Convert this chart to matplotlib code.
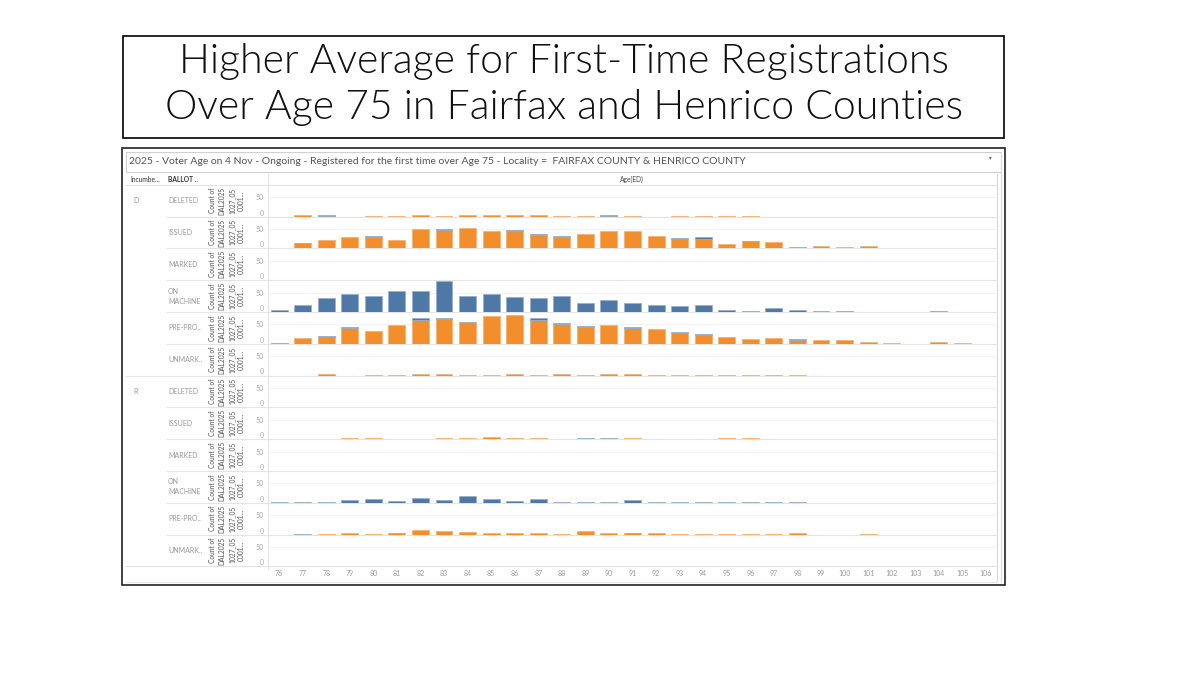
import numpy as np
import matplotlib.pyplot as plt
from matplotlib.patches import Rectangle

plt.rcParams['font.family'] = ['Lato', 'DejaVu Sans']

# ages on the x axis
ages = list(range(76, 107))

# D rows (orange / blue stacked counts)
d_deleted_o = [0,3,2,0,1,2,3,1,3,4,3,4,2,1,2,1,0,1,2,2,1,0,0,0,0,0,0,0,0,0,0]
d_deleted_b = [0,0,1,0,0,0,0,0,0,0,0,0,0,0,1,0,0,0,0,0,0,0,0,0,0,0,0,0,0,0,0]
d_issued_o = [1,13,22,28,30,22,49,47,53,45,44,35,30,37,44,44,33,25,25,12,18,17,3,6,4,7,0,2,0,1,1]
d_issued_b = [0,1,0,0,3,0,0,3,0,0,4,2,1,0,0,0,0,1,3,0,1,0,1,0,0,0,0,0,0,0,0]
d_marked_o = [0,0,0,0,0,0,0,0,0,0,0,0,1,0,1,0,0,0,0,0,0,0,0,0,0,0,0,0,0,0,0]
d_marked_b = [0]*31
d_onmach_o = [0]*31
d_onmach_b = [4,18,37,45,41,55,55,80,40,46,38,35,42,24,30,22,18,15,17,6,3,9,4,2,2,0,0,0,2,0,0]
d_prepro_o = [0,15,17,40,33,48,61,64,55,71,75,61,51,44,48,41,37,27,22,16,12,15,9,9,10,5,3,0,5,2,0]
d_prepro_b = [2,0,3,4,0,0,5,3,2,0,0,6,2,1,0,2,0,2,2,0,0,0,2,0,0,0,0,0,0,0,0]
d_unmark_o = [0,0,3,0,1,1,3,3,1,2,4,1,3,2,4,4,2,1,2,2,1,1,1,0,0,0,0,0,0,0,0]
d_unmark_b = [0]*31

# R rows
r_deleted_o = [0,0,1,1,1,1,0,0,2,0,0,2,1,1,1,2,0,0,0,1,0,1,0,0,0,0,0,0,0,0,0]
r_deleted_b = [0]*31
r_issued_o = [0,0,0,2,2,1,1,3,2,5,3,3,0,1,1,3,1,1,1,2,2,1,0,0,0,0,0,0,0,0,0]
r_issued_b = [0,0,0,0,0,0,0,0,0,0,0,0,0,1,1,0,0,0,0,0,0,0,0,0,0,0,0,0,0,0,0]
r_marked_o = [0,0,0,0,0,0,0,0,0,0,1,0,0,0,0,0,0,0,0,0,0,0,0,0,0,0,0,0,0,0,0]
r_marked_b = [0]*31
r_onmach_o = [0]*31
r_onmach_b = [1,2,3,7,10,5,12,8,17,9,4,10,2,2,3,8,2,2,2,2,1,3,1,0,0,0,0,0,0,0,0]
r_prepro_o = [0,0,2,3,2,3,11,9,7,5,5,4,2,9,3,3,3,1,1,1,1,1,3,0,0,1,0,0,0,0,0]
r_prepro_b = [0,1,0,0,0,1,0,0,0,0,0,0,0,0,0,1,0,0,0,0,0,0,0,0,0,0,0,0,0,0,0]
r_unmark_o = [0,0,0,0,0,0,0,1,1,0,0,1,0,1,0,0,0,0,0,0,0,0,0,0,0,0,0,0,0,0,0]
r_unmark_b = [0]*31

groups = ['D', 'R']
ballots = ['DELETED', 'ISSUED', 'MARKED', 'ON\nMACHINE', 'PRE-PRO..', 'UNMARK..']
panels = [
    (d_deleted_o, d_deleted_b), (d_issued_o, d_issued_b), (d_marked_o, d_marked_b),
    (d_onmach_o, d_onmach_b), (d_prepro_o, d_prepro_b), (d_unmark_o, d_unmark_b),
    (r_deleted_o, r_deleted_b), (r_issued_o, r_issued_b), (r_marked_o, r_marked_b),
    (r_onmach_o, r_onmach_b), (r_prepro_o, r_prepro_b), (r_unmark_o, r_unmark_b),
]

ORANGE, ORANGE_EDGE = '#F28E2B', '#F5B070'
BLUE, BLUE_EDGE = '#4E79A7', '#97B0CE'
GRID = '#e3e3e3'

W, H = 1200, 675
fig = plt.figure(figsize=(12, 6.75), dpi=100)
bg = fig.add_axes([0, 0, 1, 1])
bg.set_xlim(0, W)
bg.set_ylim(H, 0)
bg.axis('off')

def px_axes(x0, y0, x1, y1):
    return fig.add_axes([x0/W, 1 - y1/H, (x1-x0)/W, (y1-y0)/H])

# slide title
bg.add_patch(Rectangle((123, 36), 881, 102, fill=False, ec='black', lw=1.2))
bg.text(564, 62, 'Higher Average for First-Time Registrations', ha='center', va='center',
        fontsize=29.5, fontweight=300, color='#111')
bg.text(564, 108, 'Over Age 75 in Fairfax and Henrico Counties', ha='center', va='center',
        fontsize=29.5, fontweight=300, color='#111')

# screenshot frame
bg.add_patch(Rectangle((122, 148), 883, 437, fill=False, ec='#222', lw=1.2))
bg.add_patch(Rectangle((126, 152), 875, 20, fill=False, ec='#d0d0d0', lw=0.8))
bg.text(129, 162, '2025 - Voter Age on 4 Nov - Ongoing - Registered for the first time over Age 75 '
        '- Locality =  FAIRFAX COUNTY & HENRICO COUNTY', ha='left', va='center',
        fontsize=7.5, color='#555')
bg.text(990, 158, '\u25be', ha='center', va='center', fontsize=4, color='#666',
        family=['DejaVu Sans'])

# column headers
bg.text(130, 180, 'Incumbe...', ha='left', va='center', fontsize=4.8, color='#333')
bg.text(168, 180, 'BALLOT ..', ha='left', va='center', fontsize=4.8, color='#333', fontweight='bold')
bg.text(632, 179, 'Age(ED)', ha='center', va='center', fontsize=4.8, color='#444')
bg.plot([126, 997], [184.7, 184.7], color=GRID, lw=0.8)
bg.plot([268, 268], [174, 569], color=GRID, lw=0.8)
bg.plot([997, 997], [174, 582], color='#d8d8d8', lw=0.8)
bg.plot([1001, 1001], [152, 582], color='#d8d8d8', lw=0.8)
bg.plot([126, 997], [582, 582], color='#e6e6e6', lw=0.8)

first_base = 216.5
pitch = 31.8
x = np.arange(len(ages))

for i, (o, b) in enumerate(panels):
    base = first_base + i * pitch
    top = base - pitch
    mid = (base + top) / 2

    # separators and left-hand labels
    x_start = 126 if i in (5, 11) else 167
    bg.plot([x_start, 997], [base, base], color=GRID, lw=0.8)
    if i % 6 == 0:
        bg.text(133, mid, groups[i // 6], ha='left', va='center', fontsize=5, color='#999')
    bg.text(168, mid, ballots[i % 6], ha='left', va='center', fontsize=5, color='#999',
            linespacing=1.5)
    bg.text(227, mid, 'Count of\nDAL2025\n1027_05\n0001...', rotation=90, ha='center',
            va='center', multialignment='center', fontsize=4.8, color='#555', linespacing=1.45)

    ax = px_axes(268, top, 997, base)
    ax.set_xlim(-0.47, len(ages) - 0.53)
    ax.set_ylim(0, 82)
    ax.patch.set_alpha(0)
    for s in ax.spines.values():
        s.set_visible(False)
    ax.axhline(50, color='#f1f1f1', lw=0.6, zorder=0)

    o = np.array(o)
    b = np.array(b)
    m = o > 0
    ax.bar(x[m], o[m], width=0.72, color=ORANGE, edgecolor=ORANGE_EDGE, lw=0.55)
    m = b > 0
    ax.bar(x[m], b[m], bottom=o[m], width=0.72, color=BLUE, edgecolor=BLUE_EDGE, lw=0.55)

    ax.set_yticks([0, 50])
    ax.set_yticklabels(['0', '50'])
    ax.tick_params(axis='y', length=0, pad=3, labelsize=5, labelcolor='#aaa')
    ax.get_yticklabels()[0].set_va('bottom')
    if i == len(panels) - 1:
        ax.set_xticks(x)
        ax.set_xticklabels([str(a) for a in ages])
        ax.tick_params(axis='x', length=0, pad=3, labelsize=5, labelcolor='#999')
    else:
        ax.set_xticks([])

fig.savefig('out.png', dpi=100)
